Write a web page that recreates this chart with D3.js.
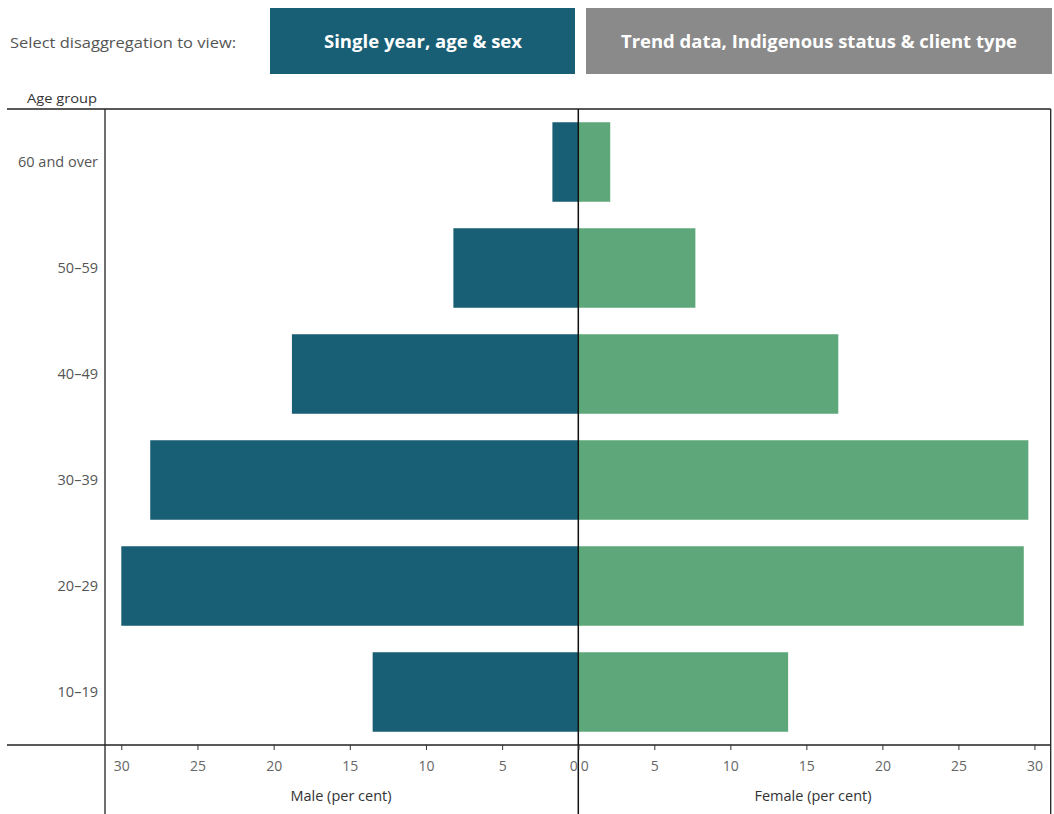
<!DOCTYPE html>
<html><head><meta charset="utf-8">
<script src="https://cdn.jsdelivr.net/npm/d3@7"></script>
<style>body{margin:0;background:#fff;} svg{display:block;font-family:"Open Sans",sans-serif;}</style>
</head><body>
<script>
const categories = ["60 and over","50–59","40–49","30–39","20–29","10–19"];
const maleValues = [1.7, 8.2, 18.8, 28.1, 30.0, 13.5];
const femaleValues = [2.1, 7.7, 17.1, 29.6, 29.3, 13.8];
const tickValues = [0,5,10,15,20,25,30];

(function(){
const W = 1054, H = 814;
const svg = d3.select("body").append("svg").attr("width", W).attr("height", H);

const maleCol = "#185e74", femaleCol = "#5ea77a";
const plotTop = 109, plotBottom = 745, center = 578.3, leftEdge = 105, rightEdge = 1050.7;
const dmax = 31.07;

const xM = d3.scaleLinear().domain([0, dmax]).range([center, leftEdge]);
const xF = d3.scaleLinear().domain([0, dmax]).range([center, rightEdge]);
const y = d3.scaleBand().domain(categories).range([plotTop, plotBottom]).paddingInner(0.25).paddingOuter(0.125);

// header
svg.append("text").attr("x", 10).attr("y", 48).attr("font-size", 14.5).attr("fill", "#555")
  .attr("textLength", 226).attr("lengthAdjust","spacingAndGlyphs").text("Select disaggregation to view:");
svg.append("rect").attr("x", 270).attr("y", 8).attr("width", 305).attr("height", 66).attr("fill", maleCol);
svg.append("text").attr("x", 423).attr("y", 48).attr("text-anchor","middle").attr("font-size", 17).attr("font-weight","bold")
  .attr("fill","#fff").attr("textLength", 198).attr("lengthAdjust","spacingAndGlyphs").text("Single year, age & sex");
svg.append("rect").attr("x", 586).attr("y", 8).attr("width", 466).attr("height", 66).attr("fill", "#8a8a8a");
svg.append("text").attr("x", 819).attr("y", 48).attr("text-anchor","middle").attr("font-size", 17).attr("font-weight","bold")
  .attr("fill","#fff").attr("textLength", 396).attr("lengthAdjust","spacingAndGlyphs").text("Trend data, Indigenous status & client type");

svg.append("text").attr("x", 27).attr("y", 103).attr("font-size", 13).attr("fill","#333")
  .attr("textLength", 70).attr("lengthAdjust","spacingAndGlyphs").text("Age group");

// bars
svg.append("g").selectAll("rect").data(categories).join("rect")
  .attr("x", (d,i) => xM(maleValues[i])).attr("width", (d,i) => center - xM(maleValues[i]))
  .attr("y", d => y(d)).attr("height", y.bandwidth()).attr("fill", maleCol);
svg.append("g").selectAll("rect").data(categories).join("rect")
  .attr("x", center).attr("width", (d,i) => xF(femaleValues[i]) - center)
  .attr("y", d => y(d)).attr("height", y.bandwidth()).attr("fill", femaleCol);

// category labels
svg.append("g").selectAll("text").data(categories).join("text")
  .attr("x", 98).attr("y", d => y(d) + y.bandwidth()/2 + 5).attr("text-anchor","end")
  .attr("font-size", 14.5).attr("fill","#555").text(d => d);

// frame lines
const line = (x1,y1,x2,y2,c="#222",w=1.3) => svg.append("line").attr("x1",x1).attr("y1",y1).attr("x2",x2).attr("y2",y2).attr("stroke",c).attr("stroke-width",w);
line(7, plotTop, rightEdge, plotTop);
line(7, plotBottom, rightEdge, plotBottom);
line(leftEdge, plotTop, leftEdge, H);
line(center, plotTop, center, H, "#111", 1.5);
line(rightEdge, plotTop, rightEdge, H);

// axes
const axM = svg.append("g").attr("transform", `translate(0,${plotBottom})`)
  .call(d3.axisBottom(xM).tickValues(tickValues).tickSize(5).tickFormat(d3.format("d")));
const axF = svg.append("g").attr("transform", `translate(0,${plotBottom})`)
  .call(d3.axisBottom(xF).tickValues(tickValues).tickSize(5).tickFormat(d3.format("d")));
[axM, axF].forEach(a => {
  a.select(".domain").remove();
  a.selectAll(".tick line").attr("stroke","#333");
  a.selectAll(".tick text").attr("font-size", 14).attr("fill","#666").attr("dy", 0).attr("y", 26).attr("font-family","Open Sans, sans-serif");
});
axM.selectAll(".tick").filter(d => d === 0).select("text").attr("text-anchor","end").attr("x", -1);
axF.selectAll(".tick").filter(d => d === 0).select("text").attr("text-anchor","start").attr("x", 2);

svg.append("text").attr("x", 341).attr("y", 801).attr("text-anchor","middle")
  .attr("font-size", 14.5).attr("fill","#333").text("Male (per cent)");
svg.append("text").attr("x", 813).attr("y", 801).attr("text-anchor","middle")
  .attr("font-size", 14.5).attr("fill","#333").text("Female (per cent)");
})();
</script>
</body></html>
